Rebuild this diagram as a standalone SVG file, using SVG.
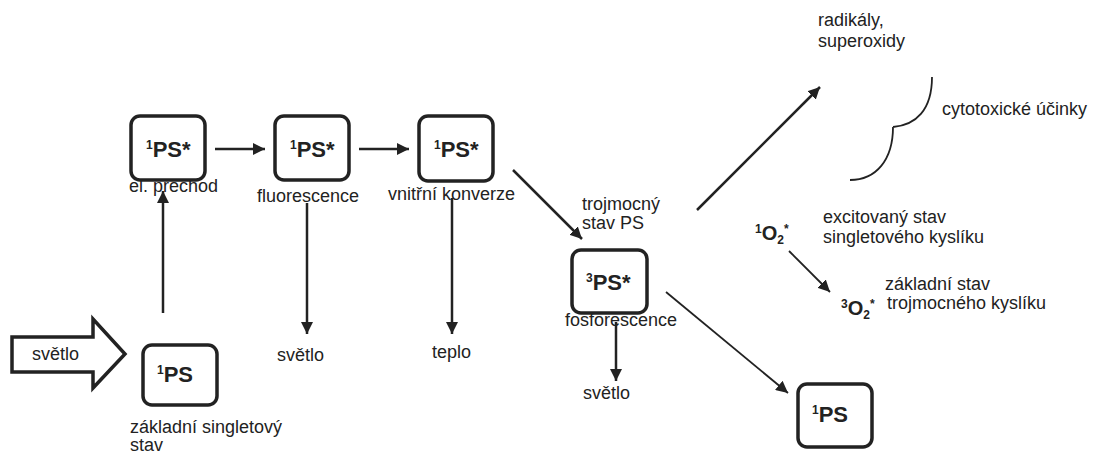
<svg xmlns="http://www.w3.org/2000/svg" width="1094" height="456" viewBox="0 0 1094 456">
<style>
.box{fill:#fff;stroke:#222;stroke-width:3.5}
.lbl{font-family:"Liberation Sans",Arial,sans-serif;font-size:18px;fill:#222}
.sym{font-family:"Liberation Sans",Arial,sans-serif;font-size:22px;font-weight:bold;fill:#222}
.sup{font-size:12px}
.ox{font-family:"Liberation Sans",Arial,sans-serif;font-size:20px;font-weight:bold;fill:#222}
.c{fill:none;stroke:#222;stroke-width:2.5}
.t{fill:none;stroke:#222;stroke-width:1.8}
</style>
<defs>
<marker id="ah" markerUnits="userSpaceOnUse" markerWidth="14" markerHeight="12" refX="12" refY="6" orient="auto">
<path d="M0,0 L12,6 L0,12 Z" fill="#222"/>
</marker>
</defs>
<rect width="1094" height="456" fill="#fff"/>

<g id="connectors">
<line class="c" x1="215" y1="149" x2="265" y2="149" marker-end="url(#ah)"/>
<line class="c" x1="359" y1="149" x2="409" y2="149" marker-end="url(#ah)"/>
<line class="c" x1="513" y1="170" x2="582" y2="239" marker-end="url(#ah)"/>
<line class="c" x1="163" y1="313" x2="163" y2="191" marker-end="url(#ah)"/>
<line class="c" x1="307" y1="203" x2="307" y2="334" marker-end="url(#ah)"/>
<line class="c" x1="452" y1="198" x2="452" y2="334" marker-end="url(#ah)"/>
<line class="c" x1="616" y1="322" x2="616" y2="381" marker-end="url(#ah)"/>
<line class="t" x1="666" y1="292" x2="788" y2="393" marker-end="url(#ah)"/>
<line class="c" x1="697" y1="210" x2="820" y2="87" marker-end="url(#ah)"/>
<line class="t" x1="789" y1="251" x2="830" y2="292" marker-end="url(#ah)"/>
<path d="M932,77 C932,110 916,125 893,127 M893,127 C893,160 876,180 850,180" fill="none" stroke="#222" stroke-width="1.8"/>
<path d="M12,337 L93,337 L93,319 L125,354 L93,388 L93,372 L12,372 Z" fill="#fff" stroke="#222" stroke-width="3.5" stroke-linejoin="miter"/>
</g>

<g id="light-in"><text class="lbl" x="32" y="360">světlo</text></g>

<g id="ps1-excited-1">
<rect class="box" x="131" y="116" width="74" height="64" rx="9"/>
<text class="sym" x="146" y="157"><tspan class="sup" dy="-8">1</tspan><tspan dy="8">PS*</tspan></text>
<text class="lbl" x="129" y="192">el. prechod</text>
</g>

<g id="ps1-excited-2">
<rect class="box" x="275" y="116" width="74" height="64" rx="9"/>
<text class="sym" x="290" y="157"><tspan class="sup" dy="-8">1</tspan><tspan dy="8">PS*</tspan></text>
<text class="lbl" x="257" y="202">fluorescence</text>
</g>

<g id="ps1-excited-3">
<rect class="box" x="419" y="116" width="74" height="65" rx="9"/>
<text class="sym" x="434" y="157"><tspan class="sup" dy="-8">1</tspan><tspan dy="8">PS*</tspan></text>
<text class="lbl" x="388" y="200">vnitřní konverze</text>
</g>

<g id="triplet-label">
<text class="lbl" x="582" y="210">trojmocný</text>
<text class="lbl" x="582" y="229">stav PS</text>
</g>

<g id="ps3-excited">
<rect class="box" x="572" y="250" width="75" height="63" rx="9"/>
<text class="sym" x="586" y="290"><tspan class="sup" dy="-8">3</tspan><tspan dy="8">PS*</tspan></text>
<text class="lbl" x="565" y="326">fosforescence</text>
</g>

<g id="ps1-ground">
<rect class="box" x="143" y="345" width="74" height="60" rx="9"/>
<text class="sym" x="157" y="382"><tspan class="sup" dy="-8">1</tspan><tspan dy="8">PS</tspan></text>
<text class="lbl" x="130" y="433">základní singletový</text>
<text class="lbl" x="130" y="451">stav</text>
</g>

<g id="ps1-ground-2">
<rect class="box" x="798" y="384" width="74" height="63" rx="9"/>
<text class="sym" x="812" y="422"><tspan class="sup" dy="-8">1</tspan><tspan dy="8">PS</tspan></text>
</g>

<g id="light-2"><text class="lbl" x="277" y="361">světlo</text></g>
<g id="heat"><text class="lbl" x="432" y="358">teplo</text></g>
<g id="light-3"><text class="lbl" x="583" y="399">světlo</text></g>

<g id="radicals">
<text class="lbl" x="818" y="26">radikály,</text>
<text class="lbl" x="818" y="47">superoxidy</text>
</g>
<g id="cytotoxic"><text class="lbl" x="942" y="115">cytotoxické účinky</text></g>

<g id="o2-singlet">
<text class="ox" x="755" y="240"><tspan class="sup" dy="-7">1</tspan><tspan dy="7">O</tspan><tspan class="sup" dy="4">2</tspan><tspan class="sup" dy="-11">*</tspan></text>
<text class="lbl" x="823" y="223">excitovaný stav</text>
<text class="lbl" x="823" y="243">singletového kyslíku</text>
</g>

<g id="o2-triplet">
<text class="ox" x="841" y="315"><tspan class="sup" dy="-7">3</tspan><tspan dy="7">O</tspan><tspan class="sup" dy="4">2</tspan><tspan class="sup" dy="-11">*</tspan></text>
<text class="lbl" x="885" y="290">základní stav</text>
<text class="lbl" x="887" y="309">trojmocného kyslíku</text>
</g>
</svg>
